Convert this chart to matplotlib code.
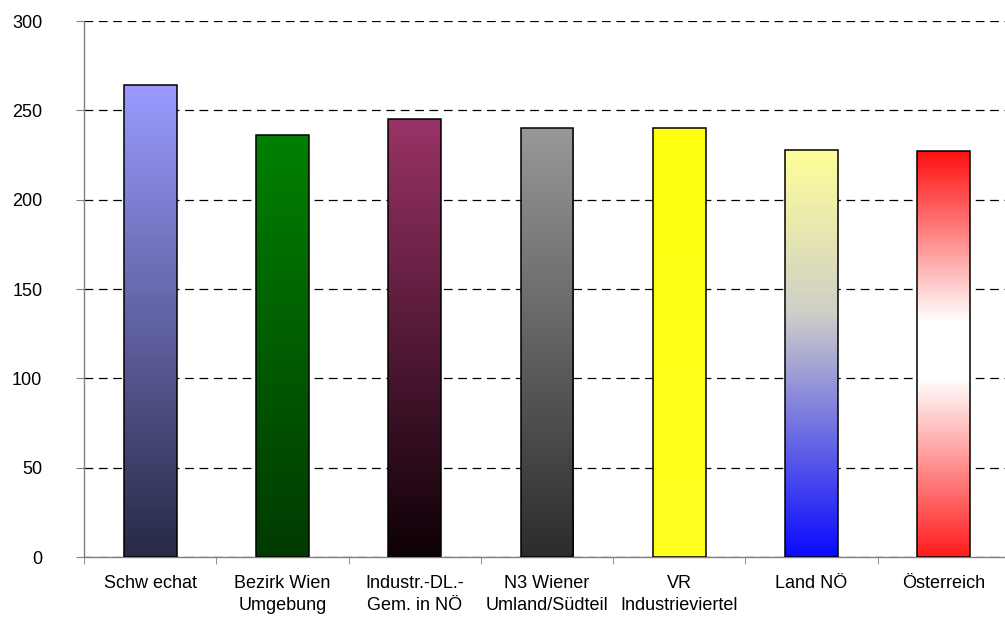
import numpy as np
import matplotlib.pyplot as plt
from matplotlib.colors import LinearSegmentedColormap

# Kategorien und Werte
labels = ['Schw echat', 'Bezirk Wien\nUmgebung', 'Industr.-DL.-\nGem. in NÖ',
          'N3 Wiener\nUmland/Südteil', 'VR\nIndustrieviertel', 'Land NÖ', 'Österreich']
values = [264, 236, 245, 240, 240, 228, 227]

# Farbverläufe je Balken (von unten nach oben)
gradients = [
    [(0.0, '#282a46'), (1.0, '#9a9aff')],
    [(0.0, '#003a00'), (1.0, '#008000')],
    [(0.0, '#0e0006'), (1.0, '#993366')],
    [(0.0, '#2c2c2c'), (1.0, '#989898')],
    [(0.0, '#ffff20'), (1.0, '#ffff10')],
    [(0.0, '#0a0aff'), (0.6, '#cfcfc8'), (1.0, '#ffff99')],
    [(0.0, '#ff1c1c'), (0.44, '#ffffff'), (0.58, '#ffffff'), (1.0, '#ff1010')],
]

plt.rcParams['font.family'] = ['Liberation Sans', 'DejaVu Sans']

fig = plt.figure(figsize=(10.05, 6.19), dpi=100)
ax = fig.add_axes([84 / 1005, 62 / 619, 926 / 1005, 536 / 619])

x = np.arange(len(values))
bars = ax.bar(x, values, width=0.4, fill=False, edgecolor='black', linewidth=1.1, zorder=4)

ramp = np.linspace(0, 1, 256).reshape(-1, 1)
for b, g in zip(bars, gradients):
    cmap = LinearSegmentedColormap.from_list('g', g)
    x0, w, h = b.get_x(), b.get_width(), b.get_height()
    ax.imshow(ramp, cmap=cmap, origin='lower', aspect='auto',
              extent=[x0, x0 + w, 0, h], zorder=3, interpolation='bilinear')

ax.set_xlim(-0.5, len(values) - 0.5)
ax.set_ylim(0, 300)
ax.set_yticks(range(0, 301, 50))
ax.yaxis.grid(True, linestyle=(0, (7, 4.5)), color='black', linewidth=0.9)
ax.set_axisbelow(True)

ax.set_xticks(x)
ax.set_xticklabels(labels, fontsize=13, linespacing=1.4)
ax.set_xticks(np.arange(-0.5, len(values), 1), minor=True)
ax.tick_params(axis='x', which='major', length=0, pad=13)
ax.tick_params(axis='x', which='minor', length=5, color='#808080', direction='out')
ax.tick_params(axis='y', length=6, color='#808080', labelsize=13, pad=24)

for s in ['top', 'right']:
    ax.spines[s].set_visible(False)
for s in ['left', 'bottom']:
    ax.spines[s].set_color('#808080')
    ax.spines[s].set_linewidth(1.0)

fig.savefig('out.png', dpi=100)
